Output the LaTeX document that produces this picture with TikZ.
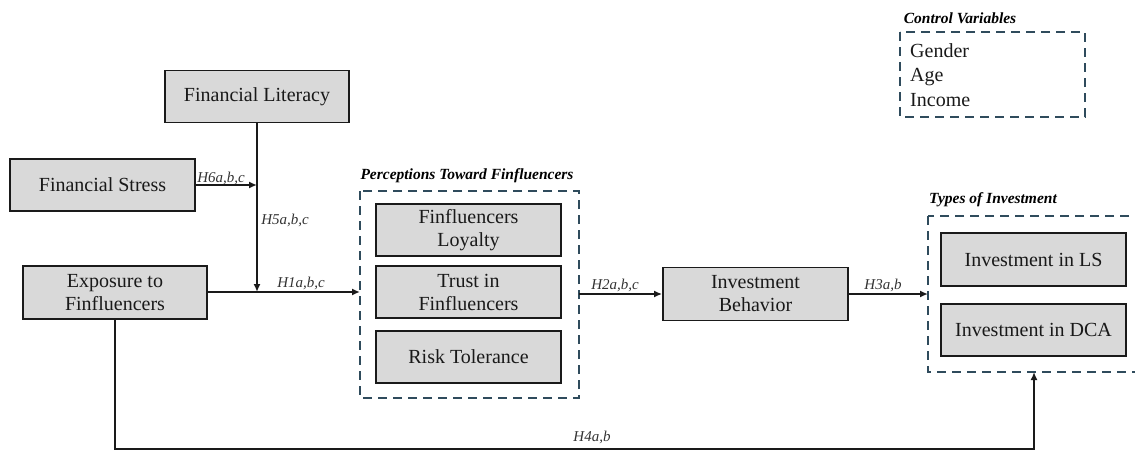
\documentclass[tikz,border=0pt]{standalone}
\usepackage{fontspec}
\setmainfont{Liberation Serif}
\usetikzlibrary{arrows.meta,calc}
\definecolor{dashcol}{HTML}{2F4B5C}
\definecolor{boxfill}{HTML}{D9D9D9}
\definecolor{linecol}{HTML}{1A1A1A}
\begin{document}
\begin{tikzpicture}[x=1pt,y=-1pt,
  box/.style={draw=linecol,line width=1.8pt,fill=boxfill,rectangle,minimum width=184pt,minimum height=52pt,inner sep=2pt,align=center,font=\fontsize{20}{23}\selectfont,text=black!90},
  grp/.style={draw=dashcol,line width=2.2pt,dash pattern=on 9pt off 6pt},
  conn/.style={draw=linecol,line width=1.8pt},
  arr/.style={conn,-{Latex[length=8pt,width=7pt]}},
  hyp/.style={font=\fontsize{15}{17}\selectfont\itshape,text=black!80,inner sep=0pt},
  ttl/.style={font=\fontsize{15.5}{18}\selectfont\bfseries\itshape,inner sep=0pt}]
\useasboundingbox (0,0) rectangle (1135,452);
\clip (0,0) rectangle (1135,452);
% group frames
\draw[grp] (360,191) rectangle (579,398);
\draw[grp] (928,216) rectangle (1150,372);
\draw[grp] (900,32) rectangle (1085,117);
\coordinate (percW) at (360,294);
\coordinate (percE) at (579,294);
\coordinate (typesW) at (928,294);
\coordinate (typesS) at (1034,372);
% titles
\node[ttl] (tperc) at (467,176) {Perceptions Toward Finfluencers};
\node[ttl] (ttypes) at (993,200) {Types of Investment};
\node[ttl] (tctrl) at (960,18) {Control Variables};
\node[anchor=west,align=left,inner sep=0pt,font=\fontsize{20}{24.5}\selectfont,text=black!90] (ctrl) at (910,75) {Gender\\Age\\Income};
% boxes
\node[box] (lit) at (257,96.5) {Financial Literacy};
\node[box,minimum width=185pt] (stress) at (102.5,185) {Financial Stress};
\node[box,minimum height=53pt] (expo) at (115,292.5) {Exposure to\\Finfluencers};
\node[box,minimum width=185pt] (loyal) at (468.5,230) {Finfluencers\\Loyalty};
\node[box,minimum width=185pt] (trust) at (468.5,292) {Trust in\\Finfluencers};
\node[box,minimum width=185pt] (risk) at (468.5,357) {Risk Tolerance};
\node[box,minimum width=185pt,minimum height=53pt] (behav) at (755.5,294) {Investment\\Behavior};
\node[box,minimum width=185pt,minimum height=53pt] (ls) at (1033.5,259.5) {Investment in LS};
\node[box,minimum width=185pt] (dca) at (1033.5,330) {Investment in DCA};
% connectors
\coordinate (j1) at (257,292);
\draw[conn] (expo.east |- j1) -- (j1);
\draw[arr] (j1) -- (percW |- j1);
\draw[arr] (lit.south) -- (j1);
\draw[arr] (stress.east) -- (lit.south |- stress.east);
\draw[arr] (percE) -- (behav.west);
\draw[arr] (behav.east) -- (typesW |- behav.east);
\coordinate (b4) at (1034,449);
\draw[arr] (expo.south) |- (b4) -- (typesS);
% hypothesis labels
\node[hyp] (h6) at (221,178) {H6a,b,c};
\node[hyp] (h5) at (285,220) {H5a,b,c};
\node[hyp] (h1) at (301,283) {H1a,b,c};
\node[hyp] (h2) at (615,285) {H2a,b,c};
\node[hyp] (h3) at (883,285) {H3a,b};
\node[hyp] (h4) at (592,437) {H4a,b};
\end{tikzpicture}
\end{document}
